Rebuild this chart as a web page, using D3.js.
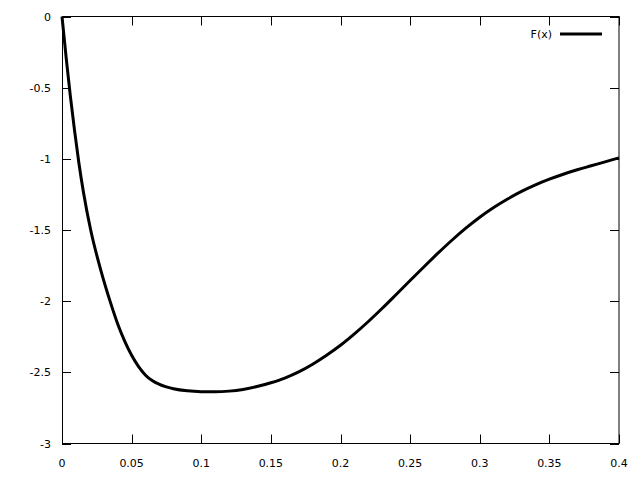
<!DOCTYPE html>
<html><head><meta charset="utf-8">
<script src="https://cdn.jsdelivr.net/npm/d3@7"></script>
<style>body{margin:0;background:#fff}svg{display:block}text{font-family:"DejaVu Sans",sans-serif;font-size:11px;fill:#000}</style>
</head><body>
<script>
const seriesName = "F(x)";
const xValues = [0, 0.003, 0.006, 0.009, 0.012, 0.0155, 0.0206, 0.0278, 0.0345, 0.04, 0.045, 0.05, 0.055, 0.06, 0.065, 0.07, 0.08, 0.09, 0.1, 0.11, 0.12, 0.13, 0.14, 0.15, 0.16, 0.17, 0.18, 0.19, 0.2, 0.21, 0.22, 0.23, 0.24, 0.25, 0.26, 0.27, 0.28, 0.29, 0.3, 0.31, 0.32, 0.33, 0.34, 0.35, 0.36, 0.37, 0.38, 0.39, 0.4];
const yValues = [0, -0.29, -0.56, -0.80, -1.02, -1.24, -1.5, -1.78, -2.0, -2.16, -2.28, -2.38, -2.46, -2.52, -2.56, -2.585, -2.615, -2.63, -2.636, -2.637, -2.632, -2.62, -2.60, -2.573, -2.54, -2.497, -2.443, -2.38, -2.31, -2.23, -2.143, -2.05, -1.953, -1.855, -1.758, -1.663, -1.572, -1.487, -1.41, -1.342, -1.282, -1.229, -1.183, -1.143, -1.108, -1.077, -1.049, -1.021, -0.993];
const xTicks = [0, 0.05, 0.1, 0.15, 0.2, 0.25, 0.3, 0.35, 0.4];
const yTicks = [0, -0.5, -1, -1.5, -2, -2.5, -3];

const W = 640, H = 480;
const L = 62, R = 619, T = 16.5, B = 443.5;
const svg = d3.select("body").append("svg").attr("width", W).attr("height", H);
const x = d3.scaleLinear().domain([0, 0.4]).range([L, R]);
const y = d3.scaleLinear().domain([-3, 0]).range([B, T]);
const fmt = d => String(d);

// ticks on all four sides, inward
const g = svg.append("g").attr("stroke", "#000").attr("stroke-width", 1);
xTicks.forEach(t => {
  const px = Math.round(x(t)) + 0.5;
  g.append("line").attr("x1", px).attr("x2", px).attr("y1", B).attr("y2", B - 9);
  g.append("line").attr("x1", px).attr("x2", px).attr("y1", T).attr("y2", T + 9);
});
yTicks.forEach(t => {
  const py = Math.round(y(t)) + 0.5;
  g.append("line").attr("x1", L).attr("x2", L + 9).attr("y1", py).attr("y2", py);
  g.append("line").attr("x1", R).attr("x2", R - 9).attr("y1", py).attr("y2", py);
});
svg.selectAll(".xl").data(xTicks).enter().append("text")
  .attr("x", d => x(d)).attr("y", 467).attr("text-anchor", "middle").text(fmt);
svg.selectAll(".yl").data(yTicks).enter().append("text")
  .attr("x", 51).attr("y", d => y(d) + 4).attr("text-anchor", "end").text(fmt);

const data = xValues.map((v, i) => [v, yValues[i]]);
svg.append("path").datum(data)
  .attr("fill", "none").attr("stroke", "#000").attr("stroke-width", 3)
  .attr("d", d3.line().x(d => x(d[0])).y(d => y(d[1])).curve(d3.curveMonotoneX));

// border
svg.append("rect").attr("x", L + 0.5).attr("y", T).attr("width", R - L - 0.5).attr("height", B - T)
  .attr("fill", "none").attr("stroke", "#000").attr("stroke-width", 1);

// legend
svg.append("text").attr("x", 552).attr("y", 38).attr("text-anchor", "end").text(seriesName);
svg.append("line").attr("x1", 560).attr("x2", 602).attr("y1", 34).attr("y2", 34)
  .attr("stroke", "#000").attr("stroke-width", 3);
</script>
</body></html>
